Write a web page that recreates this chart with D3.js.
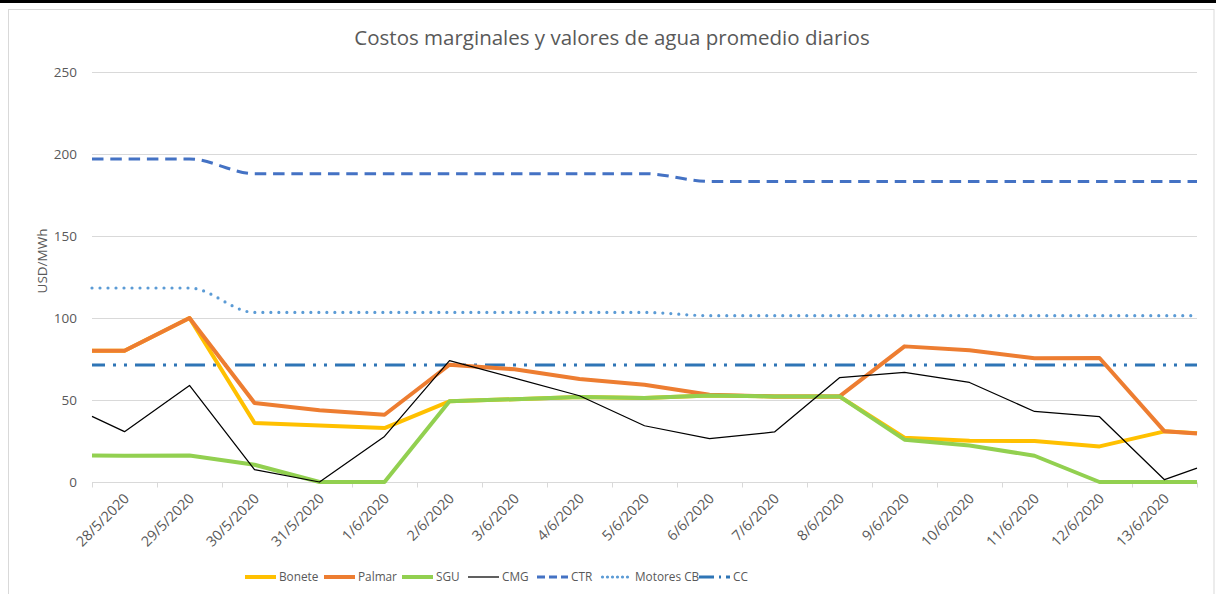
<!DOCTYPE html>
<html><head><meta charset="utf-8">
<script src="https://cdn.jsdelivr.net/npm/d3@7"></script>
<style>html,body{margin:0;padding:0;background:#fff;}svg{display:block;}</style>
</head><body>
<svg id="chart" width="1216" height="594"></svg>
<script>
// ---- data ----
const dates = ["28/5/2020","29/5/2020","30/5/2020","31/5/2020","1/6/2020","2/6/2020","3/6/2020","4/6/2020","5/6/2020","6/6/2020","7/6/2020","8/6/2020","9/6/2020","10/6/2020","11/6/2020","12/6/2020","13/6/2020"];
const yTicks = [0, 50, 100, 150, 200, 250];
// values where each line meets the left / right edge of the plot
const bonete   = [80, 100, 36, 34.5, 32.9, 49.2, 50.5, 51.8, 51.2, 52.8, 52.2, 52.2, 27, 25.2, 25, 21.7, 30.9];
const boneteEdges = [80, 29.8];
const palmar   = [80, 100, 48.2, 43.7, 41, 71.5, 68.7, 62.8, 59.3, 53.2, 52.2, 52.2, 82.7, 80.3, 75.4, 75.6, 30.9];
const palmarEdges = [80, 29.5];
const sgu      = [16, 16.2, 10.5, 0, 0, 49.2, 50.5, 51.8, 51.2, 52.8, 52.2, 52.2, 25.8, 22.3, 16, 0, 0];
const sguEdges = [16.2, 0];
const cmg      = [30.7, 58.9, 7.5, 0, 27.8, 74, 63.4, 52.6, 34.3, 26.4, 30.5, 63.6, 66.8, 60.7, 43, 39.8, 1.4];
const cmgEdges = [40, 8.5];
const ctr      = [197, 197, 188, 188, 188, 188, 188, 188, 188, 183.3, 183.3, 183.3, 183.3, 183.3, 183.3, 183.3, 183.3];
const ctrEdges = [197, 183.3];
const motores  = [118.3, 118.3, 103.4, 103.4, 103.4, 103.4, 103.4, 103.4, 103.4, 101.4, 101.4, 101.4, 101.4, 101.4, 101.4, 101.4, 101.4];
const motoresEdges = [118.3, 101.4];
const cc       = [71.3, 71.3, 71.3, 71.3, 71.3, 71.3, 71.3, 71.3, 71.3, 71.3, 71.3, 71.3, 71.3, 71.3, 71.3, 71.3, 71.3];
const ccEdges = [71.3, 71.3];
const seriesNames = ["Bonete","Palmar","SGU","CMG","CTR","Motores CB","CC"];

// ---- layout ----
const FONT = "'Open Sans', sans-serif";
const TXT = "#595959";
const svg = d3.select("#chart");
const L = 92, R = 1197, T = 72, B = 482;
const n = dates.length;
const x = d3.scaleLinear().domain([-0.5, n - 0.5]).range([L, R]);
const y = d3.scaleLinear().domain([0, 250]).range([B, T]);

svg.append("rect").attr("x", 0).attr("y", 0).attr("width", 1216).attr("height", 3).attr("fill", "#000");
svg.append("rect").attr("x", 8.5).attr("y", 9.5).attr("width", 1205.5).attr("height", 600)
  .attr("fill", "#fff").attr("stroke", "#d9d9d9").attr("stroke-width", 1);

svg.append("text").attr("x", 612).attr("y", 45).attr("text-anchor", "middle")
  .attr("font-family", FONT).attr("font-size", 20.5).attr("fill", TXT)
  .text("Costos marginales y valores de agua promedio diarios");

// grid
svg.append("g").selectAll("line").data(yTicks.filter(v => v > 0)).join("line")
  .attr("x1", L).attr("x2", R).attr("y1", d => Math.round(y(d)) + 0.5).attr("y2", d => Math.round(y(d)) + 0.5)
  .attr("stroke", "#d9d9d9").attr("stroke-width", 1);

// y axis labels
const yAxis = d3.axisLeft(y).tickValues(yTicks).tickSize(0).tickPadding(15);
const gy = svg.append("g").attr("transform", `translate(${L},0)`).call(yAxis);
gy.select(".domain").remove();
gy.selectAll("text").attr("font-family", FONT).attr("font-size", 13.5).attr("fill", TXT);

// x axis
const bounds = d3.range(n + 1).map(i => i - 0.5);
const xAxis = d3.axisBottom(x).tickValues(bounds).tickSize(5).tickFormat("");
const gx = svg.append("g").attr("transform", `translate(0,${Math.round(B) + 0.5})`).call(xAxis);
gx.select(".domain").attr("stroke", "#d9d9d9").attr("d", `M${L},0H${R}`);
gx.selectAll(".tick line").attr("stroke", "#d9d9d9");
svg.append("g").selectAll("text").data(dates).join("text")
  .attr("transform", (d, i) => `translate(${x(i) + 2},${B + 14}) rotate(-45)`)
  .attr("text-anchor", "end").attr("dy", "0.35em")
  .attr("font-family", FONT).attr("font-size", 14.3).attr("fill", TXT)
  .text(d => d);

// y title
svg.append("text").attr("transform", "translate(47,261) rotate(-90)").attr("text-anchor", "middle")
  .attr("font-family", FONT).attr("font-size", 13.5).attr("fill", TXT).text("USD/MWh");

// series
function pts(vals, edges) {
  return [[-0.5, edges[0]], ...vals.map((v, i) => [i, v]), [n - 0.5, edges[1]]];
}
const lin = d3.line().x(d => x(d[0])).y(d => y(d[1]));
const smooth = d3.line().x(d => x(d[0])).y(d => y(d[1])).curve(d3.curveMonotoneX);

const styles = [
  {name: "Bonete", vals: bonete, edges: boneteEdges, color: "#FFC000", w: 4, gen: lin},
  {name: "Palmar", vals: palmar, edges: palmarEdges, color: "#ED7D31", w: 4, gen: lin},
  {name: "SGU", vals: sgu, edges: sguEdges, color: "#92D050", w: 4, gen: lin},
  {name: "CMG", vals: cmg, edges: cmgEdges, color: "#000000", w: 1.25, gen: lin},
  {name: "CTR", vals: ctr, edges: ctrEdges, color: "#4472C4", w: 3, gen: smooth, dash: "11.5,6.8", cap: "butt"},
  {name: "Motores CB", vals: motores, edges: motoresEdges, color: "#5B9BD5", w: 3.2, gen: smooth, dash: "0,8", cap: "round"},
  {name: "CC", vals: cc, edges: ccEdges, color: "#2E75B6", w: 3, gen: lin, dash: "20,8,3,8,3,8", cap: "butt", offset: 7}
];
const order = ["CTR", "Motores CB", "CC", "Bonete", "Palmar", "SGU", "CMG"];
order.forEach(nm => {
  const s = styles.find(t => t.name === nm);
  svg.append("path").attr("d", s.gen(pts(s.vals, s.edges)))
    .attr("fill", "none").attr("stroke", s.color).attr("stroke-width", s.w)
    .attr("stroke-linejoin", "round").attr("stroke-linecap", s.cap || "butt")
    .attr("stroke-dasharray", s.dash || null).attr("stroke-dashoffset", s.offset || 0);
});

// legend
const legX = [245, 324, 402, 468, 537, 601, 699];
const legDash = [null, null, null, null, "8,4", "0,5", "15,5,2,5"];
const legY = 577;
const lg = svg.append("g");
styles.forEach((s, i) => {
  const x0 = legX[i];
  lg.append("line").attr("x1", x0 + (s.name === "Motores CB" ? 1.5 : 0)).attr("x2", x0 + 31).attr("y1", legY).attr("y2", legY)
    .attr("stroke", s.color).attr("stroke-width", s.w)
    .attr("stroke-linecap", s.cap || "butt").attr("stroke-dasharray", legDash[i]);
  lg.append("text").attr("x", x0 + 34).attr("y", legY).attr("dy", "0.35em")
    .attr("font-family", FONT).attr("font-size", 11.8).attr("fill", TXT).text(s.name);
});
</script>
</body></html>
